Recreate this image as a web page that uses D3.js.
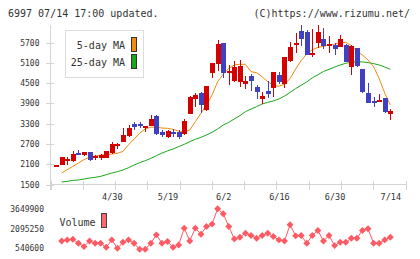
<!DOCTYPE html>
<html>
<head>
<meta charset="UTF-8">
<title>6997</title>
<script src="https://cdnjs.cloudflare.com/ajax/libs/d3/7.8.5/d3.min.js"></script>
<style>
html, body { margin: 0; padding: 0; background: #fff; }
svg { display: block; }
text { font-family: "DejaVu Sans Mono", monospace; fill: #333; }
.axis path, .axis line { stroke: #d4d4d4; shape-rendering: crispEdges; }
</style>
</head>
<body>
<script>

// OHLC, one entry per trading day
var opens  = [2050,2070,2190,2190,2430,2345,2455,2260,2270,2280,2405,2610,2730,2905,3280,3280,3150,3220,3500,3025,
              2890,3040,3048,2970,3580,4010,4180,3690,4780,5060,5670,4785,4545,4530,4470,4695,4370,4000,4250,4350,
              4725,4470,5150,5610,6025,5995,5325,5680,5790,5590,5610,5560,5610,4970,5510,4900,4190,3965,3935,4045,3580];
var highs  = [2050,2310,2290,2480,2510,2460,2460,2355,2395,2480,2750,2700,3150,3250,3340,3320,3230,3550,3550,3100,
              3105,3135,3097,3414,4090,4200,4230,4400,5080,5760,5670,5020,5140,5170,4700,4750,4430,4230,4545,4810,
              4820,5255,5700,5975,6200,6055,6075,6200,6105,5880,5660,5905,5630,5610,5530,4900,4500,4080,4160,4045,3730];
var lows   = [2050,2050,2070,2160,2345,2340,2170,2220,2200,2255,2400,2550,2730,2900,3100,3150,3045,3220,2955,2890,
              2860,2880,2822,2950,3575,3790,3610,3660,4645,4850,4625,4430,4510,4380,4300,4260,4010,3875,4055,4085,
              4450,4350,5100,5385,5580,5305,5245,5510,5485,5365,5325,5550,5100,4725,4970,4200,3885,3790,3915,3610,3390];
var closes = [2050,2290,2250,2400,2345,2455,2220,2325,2355,2475,2670,2680,2955,3150,3200,3220,3210,3430,2975,2935,
              3080,2990,2900,3370,4080,4130,3835,4400,5080,5640,4775,4840,4960,4980,4550,4557,4230,4105,4160,4810,
              4530,5255,5550,5680,5800,5325,5385,5995,5590,5640,5485,5790,5120,5580,4990,4230,3905,3905,3995,3640,3670];

// moving averages as drawn
var ma5  = [null,1825,1925,2020,2120,2220,2290,2325,2355,2375,2385,2405,2465,2660,2830,3005,3125,3180,3180,3155,
            3147,3117,3068,3028,3097,3344,3590,3837,4133,4527,4744,4921,5020,5040,5040,4823,4790,4674,4526,4420,
            4390,4450,4620,4900,5150,5350,5470,5540,5570,5610,5640,5680,5690,5600,5420,5316,5168,4970,4620,4190,3837];
var ma25 = [null,1559,1578,1608,1618,1647,1677,1697,1726,1775,1824,1864,1913,1982,2061,2130,2189,2257,2336,2415,
            2480,2535,2604,2673,2752,2821,2880,2949,3028,3127,3245,3324,3423,3521,3640,3719,3788,3866,3916,3955,
            4014,4100,4210,4320,4420,4520,4640,4730,4830,4890,4960,5020,5070,5100,5120,5110,5090,5060,5020,4960,4890];

var volume = [null,1125250,1205000,1258000,939200,673500,1125000,939000,939000,620000,1205000,540600,1019000,1205000,939000,
              460900,460900,939000,1603600,939000,1072000,620000,806000,2135000,1125000,2135000,1656800,2268000,
              2454000,3676000,3278000,2268000,1285000,1418000,1737000,1550000,1338000,1550000,1737000,1471000,1205000,
              1125000,2401000,1524000,1550000,939000,1550000,1949000,1125000,1550000,753000,1019000,1019000,1338000,
              1338000,1949000,2082000,939000,939000,1205000,1418000];

var labelPos  = [10, 20, 30, 40, 50, 60];
var labelText = ["4/30", "5/19", "6/2", "6/16", "6/30", "7/14"];
var priceTicks = [1500, 2100, 2700, 3300, 3900, 4500, 5100, 5700];
var volTicks   = [540600, 2095250, 3649900];

var width = 420, height = 259;
var up = "#d50000", down = "#4040c0";

var svg = d3.select("body").append("svg")
    .attr("width", width)
    .attr("height", height);

var x  = d3.scaleLinear().domain([0, 60]).range([56.1, 390.3]);
var y  = d3.scaleLinear().domain([1500, 5700]).range([184, 42]);
var yv = d3.scaleLinear().domain([540600, 3649900]).range([248.3, 209]);
var xg = d3.scaleLinear().domain([0, 11]).range([50, 405]);

// header
svg.append("text").attr("x", 8).attr("y", 16.5).style("font-size", "10px")
    .text("6997 07/14 17:00 updated.");
svg.append("text").attr("x", 410).attr("y", 16.5).attr("text-anchor", "end").style("font-size", "10px")
    .text("(C)https://www.rizumu.net/");

// price axis
svg.append("line").attr("x1", 50.5).attr("x2", 50.5).attr("y1", 25).attr("y2", 190)
    .attr("stroke", "#d4d4d4").style("shape-rendering", "crispEdges");
svg.append("g").attr("class", "axis")
    .attr("transform", "translate(53.5,0.5)")
    .call(d3.axisLeft(y).tickValues(priceTicks).tickSize(8).tickPadding(6).tickFormat(d3.format("d")))
    .call(function(g) { g.select(".domain").remove(); })
    .selectAll("text").style("font-size", "8px").attr("font-family", null);

// bottom axis with plain tick marks
svg.append("line").attr("x1", 50).attr("x2", 406).attr("y1", 184.5).attr("y2", 184.5)
    .attr("stroke", "#d4d4d4").style("shape-rendering", "crispEdges");
svg.append("g").attr("class", "axis")
    .attr("transform", "translate(0.5,181)")
    .call(d3.axisBottom(xg).ticks(11).tickSize(9).tickFormat(""))
    .call(function(g) { g.select(".domain").remove(); });

// date labels
svg.append("g")
    .attr("transform", "translate(0,194)")
    .call(d3.axisBottom(x).tickValues(labelPos).tickSize(0).tickPadding(0)
        .tickFormat(function(d, i) { return labelText[i]; }))
    .call(function(g) { g.select(".domain").remove(); })
    .selectAll("text").style("font-size", "8.5px").attr("font-family", null);

// moving averages
var line = d3.line()
    .defined(function(d) { return d != null; })
    .x(function(d, i) { return x(i); })
    .y(function(d) { return y(d); });

svg.append("path").datum(ma25).attr("d", line)
    .attr("fill", "none").attr("stroke", "#18a818").attr("stroke-width", 1);
svg.append("path").datum(ma5).attr("d", line)
    .attr("fill", "none").attr("stroke", "#f08c10").attr("stroke-width", 1);

// candles
var candle = svg.append("g").style("shape-rendering", "crispEdges")
    .selectAll("g").data(d3.range(opens.length)).enter().append("g");

candle.append("line")
    .attr("x1", function(i) { return Math.round(x(i)) + 0.5; })
    .attr("x2", function(i) { return Math.round(x(i)) + 0.5; })
    .attr("y1", function(i) { return y(highs[i]); })
    .attr("y2", function(i) { return y(lows[i]); })
    .attr("stroke", function(i) { return closes[i] >= opens[i] ? up : down; });

candle.append("rect")
    .attr("x", function(i) { return Math.round(x(i)) - 2; })
    .attr("width", 5)
    .attr("y", function(i) { return y(Math.max(opens[i], closes[i])); })
    .attr("height", function(i) { return Math.max(1.5, Math.abs(y(opens[i]) - y(closes[i]))); })
    .attr("fill", function(i) { return closes[i] >= opens[i] ? up : down; });

// legend
var legend = svg.append("g");
legend.append("rect").attr("x", 65.5).attr("y", 30.5).attr("width", 78).attr("height", 47)
    .attr("fill", "#fff").attr("stroke", "#dcdcdc");
legend.append("text").attr("x", 125).attr("y", 49).attr("text-anchor", "end").style("font-size", "10px").text("5-day MA");
legend.append("text").attr("x", 125).attr("y", 66).attr("text-anchor", "end").style("font-size", "10px").text("25-day MA");
legend.append("rect").attr("x", 131.5).attr("y", 37.5).attr("width", 5).attr("height", 14)
    .attr("fill", "#f08c10").attr("stroke", "#333");
legend.append("rect").attr("x", 131.5).attr("y", 54.5).attr("width", 5).attr("height", 14)
    .attr("fill", "#18a818").attr("stroke", "#333");

// volume panel
svg.append("g")
    .attr("transform", "translate(44,0)")
    .call(d3.axisLeft(yv).tickValues(volTicks).tickSize(0).tickPadding(0).tickFormat(d3.format("d")))
    .call(function(g) { g.select(".domain").remove(); })
    .selectAll("text").style("font-size", "8px").attr("font-family", null);

svg.append("text").attr("x", 59.5).attr("y", 225.5).style("font-size", "10px").text("Volume");
svg.append("rect").attr("x", 101.5).attr("y", 213.5).attr("width", 5).attr("height", 14)
    .attr("fill", "#ff6470").attr("stroke", "#444");

var vline = d3.line()
    .defined(function(d) { return d != null; })
    .x(function(d, i) { return x(i); })
    .y(function(d) { return yv(d); });

svg.append("path").datum(volume).attr("d", vline)
    .attr("fill", "none").attr("stroke", "#ff5a64").attr("stroke-width", 1);

var diamond = d3.symbol().type(d3.symbolSquare).size(24);
svg.append("g").selectAll("path")
    .data(d3.range(volume.length).filter(function(i) { return volume[i] != null; }))
    .enter().append("path")
    .attr("d", diamond)
    .attr("transform", function(i) { return "translate(" + x(i) + "," + yv(volume[i]) + ") rotate(45)"; })
    .attr("fill", "#ff5a64");

</script>
</body>
</html>
